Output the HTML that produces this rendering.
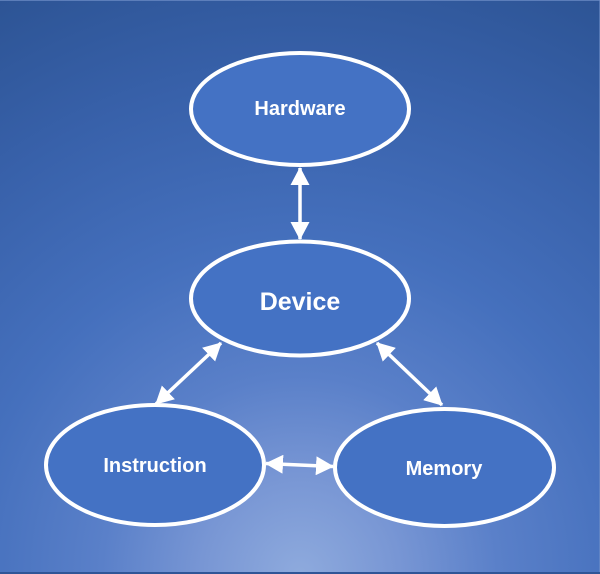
<!DOCTYPE html>
<html><head><meta charset="utf-8"><style>
html,body{margin:0;padding:0;background:#2f5597;}
svg{display:block;}
text{font-family:"Liberation Sans",sans-serif;font-weight:bold;fill:#fff;}
</style></head><body>
<svg width="600" height="574" viewBox="0 0 600 574" xmlns="http://www.w3.org/2000/svg">
<defs>
<radialGradient id="bg" gradientUnits="userSpaceOnUse" cx="300" cy="574" r="660" gradientTransform="translate(300 574) scale(1 1) translate(-300 -574)">
<stop offset="0" stop-color="#8eaadd"/>
<stop offset="0.15" stop-color="#7896d4"/>
<stop offset="0.3" stop-color="#5a80c9"/>
<stop offset="0.5" stop-color="#4570bd"/>
<stop offset="0.75" stop-color="#3861aa"/>
<stop offset="1" stop-color="#2c5393"/>
</radialGradient>
<marker id="ah" viewBox="0 0 18 19" refX="17" refY="9.5" markerWidth="18" markerHeight="19" markerUnits="userSpaceOnUse" orient="auto-start-reverse">
<path d="M0,0 L18,9.5 L0,19 z" fill="#fff"/>
</marker>
</defs>
<rect x="0" y="0" width="600" height="574" fill="url(#bg)"/>
<rect x="0" y="0" width="600" height="1" fill="#6f8fc8" opacity="0.7"/>
<rect x="599" y="0" width="1" height="574" fill="#6f8fc8" opacity="0.6"/>
<rect x="0" y="572" width="600" height="2" fill="#2f5597"/>

<!-- connectors -->
<g stroke="#fff" stroke-width="3.5" fill="none">
<line x1="300" y1="168" x2="300" y2="239" marker-start="url(#ah)" marker-end="url(#ah)"/>
<line x1="221" y1="343" x2="156" y2="404" marker-start="url(#ah)" marker-end="url(#ah)"/>
<line x1="377" y1="343" x2="442" y2="405" marker-start="url(#ah)" marker-end="url(#ah)"/>
<line x1="266" y1="463.5" x2="333" y2="466.5" marker-start="url(#ah)" marker-end="url(#ah)"/>
</g>

<!-- nodes -->
<g fill="#4472c4" stroke="#fff" stroke-width="4">
<ellipse cx="300" cy="109" rx="109" ry="56"/>
<ellipse cx="300" cy="298.5" rx="109" ry="57"/>
<ellipse cx="155" cy="465" rx="109" ry="60"/>
<ellipse cx="444.5" cy="467.5" rx="109.5" ry="58.5"/>
</g>

<text x="300" y="115" font-size="20" text-anchor="middle">Hardware</text>
<text x="300" y="310" font-size="25" text-anchor="middle">Device</text>
<text x="155" y="472" font-size="20" text-anchor="middle">Instruction</text>
<text x="444" y="475" font-size="20" text-anchor="middle">Memory</text>
</svg>
</body></html>
